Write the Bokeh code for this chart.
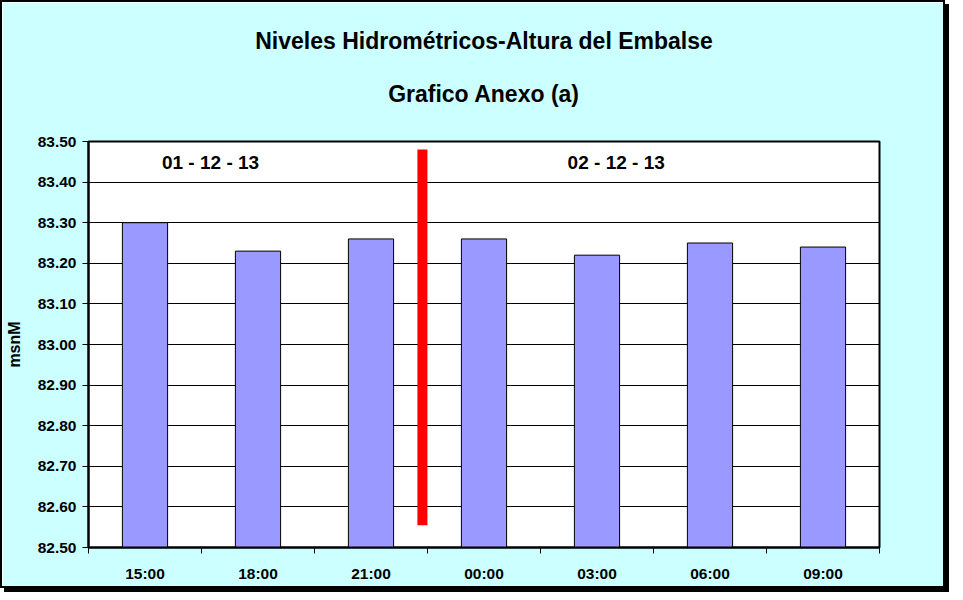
from bokeh.plotting import figure
from bokeh.models import Range1d, FixedTicker, NumeralTickFormatter, Title, ColumnDataSource
from bokeh.core.properties import value
from bokeh.embed import file_html
from bokeh.resources import INLINE

categories = ["15:00", "18:00", "21:00", "00:00", "03:00", "06:00", "09:00"]
levels = [83.30, 83.23, 83.26, 83.26, 83.22, 83.25, 83.24]
y_ticks = [82.5, 82.6, 82.7, 82.8, 82.9, 83.0, 83.1, 83.2, 83.3, 83.4, 83.5]
date_labels = ["01 - 12 - 13", "02 - 12 - 13"]
date_x = [1.08, 4.67]
date_y = [83.448, 83.448]
divider_x = 2.955
divider_y = [82.555, 83.48]
title_lines = ["Niveles Hidrométricos-Altura del Embalse", "Grafico Anexo (a)"]

FONT = "Liberation Sans"
positions = [i + 0.5 for i in range(len(categories))]

p = figure(width=945, height=588, output_backend="svg", toolbar_location=None,
           x_range=Range1d(0, len(categories)), y_range=Range1d(82.5, 83.5),
           min_border_left=85, min_border_right=68, min_border_top=139, min_border_bottom=43)
p.styles = {"border": "2px solid black", "box-shadow": "4px 4px 0px 0px black"}
p.border_fill_color = "#CCFFFF"
p.background_fill_color = "white"
p.outline_line_color = "black"
p.outline_line_width = 2

p.title.text = title_lines[0]
p.title.align = "center"
p.title.text_font = FONT
p.title.text_font_size = "23px"
p.title.text_font_style = "bold"
p.title.text_color = "black"
p.title.offset = 0
p.title.standoff = -20
t2 = Title(text=title_lines[1], align="center", text_font=FONT,
           text_font_size="23px", text_font_style="bold", text_color="black",
           standoff=70)
p.add_layout(t2, "above")

src = ColumnDataSource(dict(x=positions, top=levels, cat=categories))
p.vbar(x="x", top="top", bottom=82.5, width=0.4, source=src,
       fill_color="#9999FF", line_color="black", line_width=1)

p.segment(x0=[divider_x], y0=[divider_y[0]], x1=[divider_x], y1=[divider_y[1]],
          line_color="#FF0000", line_width=10)

p.text(x=date_x, y=date_y, text=date_labels, text_font=value(FONT),
       text_font_size="19px", text_font_style="bold", text_align="center",
       text_baseline="middle", text_color="black")

# axes
p.xaxis.ticker = FixedTicker(ticks=positions, minor_ticks=list(range(len(categories) + 1)))
p.xaxis.major_label_overrides = {pos: c for pos, c in zip(positions, categories)}
p.xaxis.major_tick_line_color = None
p.xaxis.minor_tick_out = 6
p.xaxis.minor_tick_in = 0
p.xaxis.minor_tick_line_color = "black"
p.xaxis.major_label_standoff = 11
p.xaxis.major_label_text_font = FONT
p.xaxis.major_label_text_font_size = "15.5px"
p.xaxis.major_label_text_font_style = "bold"
p.xaxis.major_label_text_color = "black"
p.xaxis.axis_line_color = "black"
p.xaxis.axis_line_width = 2

p.yaxis.ticker = FixedTicker(ticks=y_ticks)
p.yaxis.formatter = NumeralTickFormatter(format="0.00")
p.yaxis.minor_tick_line_color = None
p.yaxis.major_tick_out = 6
p.yaxis.major_tick_in = 0
p.yaxis.major_tick_line_color = "black"
p.yaxis.major_label_standoff = 6
p.yaxis.major_label_text_font = FONT
p.yaxis.major_label_text_font_size = "15.5px"
p.yaxis.major_label_text_font_style = "bold"
p.yaxis.major_label_text_color = "black"
p.yaxis.axis_line_color = "black"
p.yaxis.axis_line_width = 2
p.yaxis.axis_label = "msnM"
p.yaxis.axis_label_text_font = FONT
p.yaxis.axis_label_text_font_size = "16px"
p.yaxis.axis_label_text_font_style = "bold"
p.yaxis.axis_label_text_color = "black"
p.yaxis.axis_label_standoff = 12

p.xgrid.grid_line_color = None
p.ygrid.ticker = FixedTicker(ticks=y_ticks)
p.ygrid.grid_line_color = "black"
p.ygrid.grid_line_width = 1

open("out.html", "w").write(file_html(p, INLINE))
